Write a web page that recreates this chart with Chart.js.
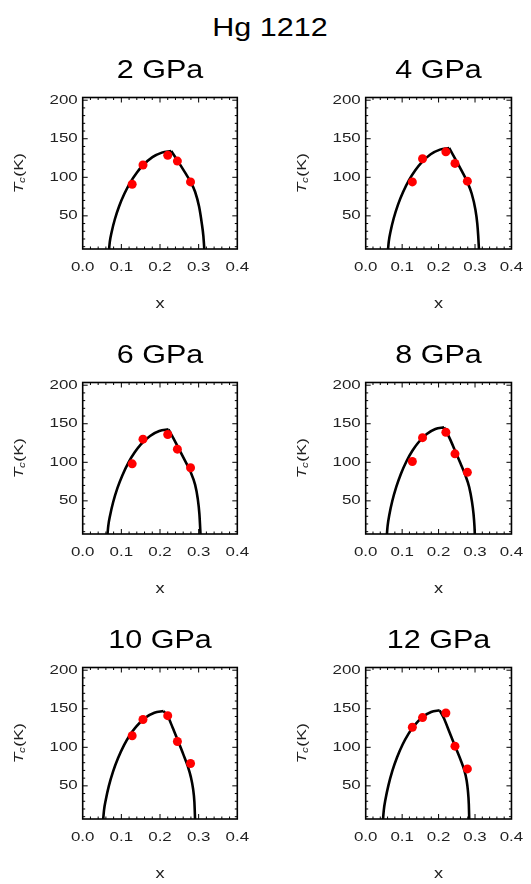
<!DOCTYPE html>
<html>
<head>
<meta charset="utf-8">
<script src="https://cdn.jsdelivr.net/npm/chart.js@4.4.1/dist/chart.umd.min.js"></script>
<style>
html,body{margin:0;padding:0;background:#fff;}
body{width:531px;height:884px;position:relative;overflow:hidden;font-family:"Liberation Sans",Arial,sans-serif;}
#main{position:absolute;left:170px;width:200px;top:12px;text-align:center;font-size:25px;line-height:30px;color:#000;transform:scaleX(1.22);transform-origin:100px 0;white-space:nowrap;}
canvas{position:absolute;}
</style>
</head>
<body>
<div id="main">Hg 1212</div>
<canvas id="c0" width="265" height="285" style="left:0px;top:40px"></canvas>
<canvas id="c1" width="266" height="285" style="left:265px;top:40px"></canvas>
<canvas id="c2" width="265" height="285" style="left:0px;top:325px"></canvas>
<canvas id="c3" width="266" height="285" style="left:265px;top:325px"></canvas>
<canvas id="c4" width="265" height="285" style="left:0px;top:610px"></canvas>
<canvas id="c5" width="266" height="285" style="left:265px;top:610px"></canvas>
<script>
// ---------- data ----------
const panelTitles = ['2 GPa', '4 GPa', '6 GPa', '8 GPa', '10 GPa', '12 GPa'];
const xTicks = [0.0, 0.1, 0.2, 0.3, 0.4];
const yTicks = [50, 100, 150, 200];

const xPoints = [0.128, 0.156, 0.220, 0.245, 0.279];
const tc2GPa  = [91, 116, 128.5, 121, 94];
const tc4GPa  = [94, 124, 133, 118, 95];
const tc6GPa  = [98, 130, 136, 117, 93];
const tc8GPa  = [101, 132, 139, 111, 87];
const tc10GPa = [115, 136, 141, 107.5, 79];
const tc12GPa = [126, 138.5, 144.5, 101.5, 72];

const fit2X  = [0.067, 0.0702, 0.0751, 0.0832, 0.0945, 0.1075, 0.1237, 0.1399, 0.1561, 0.1804, 0.2047, 0.229, 0.2392, 0.2520, 0.2650, 0.2787, 0.2908, 0.3011, 0.3080, 0.3123, 0.3155];
const fit2Y  = [0, 16.5, 29.5, 45.6, 62.7, 78.3, 93.8, 106.0, 115.6, 126.1, 132.0, 134, 126.4, 116.5, 106, 94.5, 81.3, 62, 40.6, 23.4, 0];
const fit4X  = [0.060, 0.0634, 0.0685, 0.0769, 0.0887, 0.1023, 0.1192, 0.1361, 0.1530, 0.1783, 0.2037, 0.229, 0.2392, 0.252, 0.265, 0.2787, 0.2908, 0.3011, 0.3062, 0.3088, 0.3115];
const fit4Y  = [0, 17.0, 30.4, 46.9, 64.6, 80.6, 96.6, 109.2, 119.1, 129.9, 135.9, 138, 129.5, 118.5, 107, 94, 79, 58, 40, 24, 0];
const fit6X  = [0.063, 0.0662, 0.0710, 0.0789, 0.0900, 0.1028, 0.1187, 0.1346, 0.1505, 0.1743, 0.1982, 0.222, 0.2348, 0.2452, 0.2606, 0.2787, 0.2908, 0.2976, 0.3019, 0.3055];
const fit6Y  = [0, 17.6, 31.4, 48.5, 66.8, 83.3, 99.9, 112.9, 123.2, 134.2, 140.6, 142.7, 131, 121, 106, 88, 71, 53, 33, 0];
const fit8X  = [0.057, 0.0602, 0.0649, 0.0728, 0.0839, 0.0965, 0.1123, 0.1281, 0.1439, 0.1676, 0.1913, 0.215, 0.2305, 0.2452, 0.2606, 0.2735, 0.2839, 0.2916, 0.2959, 0.2985, 0.300];
const fit8Y  = [0, 17.9, 32.0, 49.4, 68.0, 84.9, 101.7, 114.9, 125.4, 136.7, 143.2, 145.3, 131, 115, 98, 83, 68, 49, 33, 17, 0];
const fit10X = [0.052, 0.0551, 0.0599, 0.0677, 0.0787, 0.0913, 0.1070, 0.1227, 0.1384, 0.1619, 0.1855, 0.209, 0.2202, 0.2323, 0.2452, 0.2606, 0.2718, 0.2796, 0.2856, 0.289, 0.2912];
const fit10Y = [0, 18.1, 32.3, 50.0, 68.8, 85.8, 102.9, 116.3, 126.9, 138.3, 144.8, 147, 140, 126, 110, 90.5, 75.5, 62, 46, 29, 0];
const fit12X = [0.0465, 0.0496, 0.0543, 0.0622, 0.0731, 0.0856, 0.1013, 0.1169, 0.1326, 0.1561, 0.1795, 0.203, 0.2133, 0.2305, 0.2452, 0.2606, 0.2701, 0.277, 0.2804, 0.283, 0.2845];
const fit12Y = [0, 18.2, 32.6, 50.3, 69.3, 86.4, 103.6, 117.1, 127.7, 139.3, 145.8, 148, 139, 119, 101.5, 83.5, 71, 57, 44, 26, 0];

const tcSeries = [tc2GPa, tc4GPa, tc6GPa, tc8GPa, tc10GPa, tc12GPa];
const fitXs = [fit2X, fit4X, fit6X, fit8X, fit10X, fit12X];
const fitYs = [fit2Y, fit4Y, fit6Y, fit8Y, fit10Y, fit12Y];

// ---------- styling ----------
const FONT = '"Liberation Sans", Arial, Helvetica, sans-serif';
const TITLE_STRETCH = 1.22;
const LABEL_STRETCH = 1.3;

// wide (IDL-like) lettering: stretch glyphs along their baseline
(function(){
  const P = CanvasRenderingContext2D.prototype, orig = P.fillText;
  P.fillText = function(t, x, y){
    const m = /([\d.]+)px/.exec(this.font);
    const sz = m ? parseFloat(m[1]) : 12;
    const s = sz >= 20 ? TITLE_STRETCH : LABEL_STRETCH;
    this.save(); this.translate(x, y); this.scale(s, 1); orig.call(this, t, 0, 0); this.restore();
  };
})();

const framePlugin = {
  id: 'frame',
  afterDatasetsDraw(chart){
    const {ctx, chartArea: a, scales: {x, y}} = chart;
    ctx.save();
    ctx.strokeStyle = '#000';
    ctx.lineWidth = 1;
    const seg = (x1, y1, x2, y2) => { ctx.beginPath(); ctx.moveTo(x1, y1); ctx.lineTo(x2, y2); ctx.stroke(); };
    for (let i = 1; i <= 20; i++) {
      const v = i * 10;
      const py = y.getPixelForValue(v);
      if (py < a.top || py > a.bottom) continue;
      const L = (v % 50 === 0) ? 5 : 2.5;
      seg(a.left, py, a.left + L, py);
      seg(a.right, py, a.right - L, py);
    }
    for (let i = 1; i < 20; i++) {
      const px = x.getPixelForValue(i * 0.02);
      const L = (i % 5 === 0) ? 5 : 2.5;
      seg(px, a.bottom, px, a.bottom - L);
      seg(px, a.top, px, a.top + L);
    }
    ctx.lineWidth = 1.6;
    ctx.strokeRect(a.left, a.top, a.right - a.left, a.bottom - a.top);
    ctx.restore();
  },
  afterDraw(chart){
    const {ctx, chartArea: a} = chart;
    ctx.save();
    ctx.translate(a.left - 63, (a.top + a.bottom) / 2);
    ctx.rotate(-Math.PI / 2);
    ctx.fillStyle = '#222';
    ctx.textBaseline = 'middle';
    ctx.textAlign = 'left';
    const fT = 'italic 13.5px ' + FONT, fc = 'italic 9px ' + FONT, fK = '13.5px ' + FONT;
    ctx.font = fT; const wT = ctx.measureText('T').width * LABEL_STRETCH;
    ctx.font = fc; const wc = ctx.measureText('c').width * LABEL_STRETCH;
    ctx.font = fK; const wK = ctx.measureText('(K)').width * LABEL_STRETCH;
    const x0 = -(wT + wc + wK) / 2;
    ctx.font = fT; ctx.fillText('T', x0, 0);
    ctx.font = fc; ctx.fillText('c', x0 + wT - 0.5, 3);
    ctx.font = fK; ctx.fillText('(K)', x0 + wT + wc, 0);
    ctx.restore();
  }
};

panelTitles.forEach((title, i) => {
  const col = i % 2;
  const tc = tcSeries[i], fx = fitXs[i], fy = fitYs[i];
  const peak = fy.indexOf(Math.max(...fy));
  const curve = fx.map((v, k) => ({x: v, y: fy[k]}));
  const left = curve.slice(0, peak + 1), right = curve.slice(peak);
  const pts = xPoints.map((v, k) => ({x: v, y: tc[k]}));
  const lineStyle = {type: 'line', borderColor: '#000', borderWidth: 2.6, pointRadius: 0,
                     cubicInterpolationMode: 'monotone', fill: false, order: 2};
  new Chart(document.getElementById('c' + i), {
    type: 'scatter',
    data: {datasets: [
      {type: 'scatter', data: pts, pointRadius: 4.5, pointBackgroundColor: '#ff0000',
       pointBorderWidth: 0, borderWidth: 0, order: 0},
      Object.assign({data: left}, lineStyle),
      Object.assign({data: right}, lineStyle)
    ]},
    options: {
      responsive: false, animation: false, events: [],
      layout: {padding: {left: col ? 40.7 : 22.7, right: col ? 10.7 : 27.7, top: 16, bottom: 10}},
      plugins: {
        legend: {display: false}, tooltip: {enabled: false},
        title: {display: true, text: title, fullSize: false, color: '#000',
                font: {family: FONT, size: 25, weight: 'normal', lineHeight: 1.2},
                padding: {top: 0, bottom: 11.5}}
      },
      scales: {
        x: {type: 'linear', min: 0, max: 0.4,
            afterBuildTicks: s => { s.ticks = xTicks.map(v => ({value: v})); },
            afterFit: s => { s.height = 66; },
            grid: {display: false, drawTicks: false}, border: {display: false},
            ticks: {font: {family: FONT, size: 13}, color: '#222', padding: 10.5,
                    maxRotation: 0, autoSkip: false, callback: v => Number(v).toFixed(1)},
            title: {display: true, text: 'x', color: '#222', font: {family: FONT, size: 14},
                    padding: {top: 0, bottom: 2}}},
        y: {type: 'linear', min: 7, max: 203.5,
            afterBuildTicks: s => { s.ticks = yTicks.map(v => ({value: v})); },
            afterFit: s => { s.width = 60; },
            grid: {display: false, drawTicks: false}, border: {display: false},
            ticks: {font: {family: FONT, size: 13}, color: '#222', padding: 5,
                    autoSkip: false, callback: v => String(v)}}
      }
    },
    plugins: [framePlugin]
  });
});
</script>
</body>
</html>
